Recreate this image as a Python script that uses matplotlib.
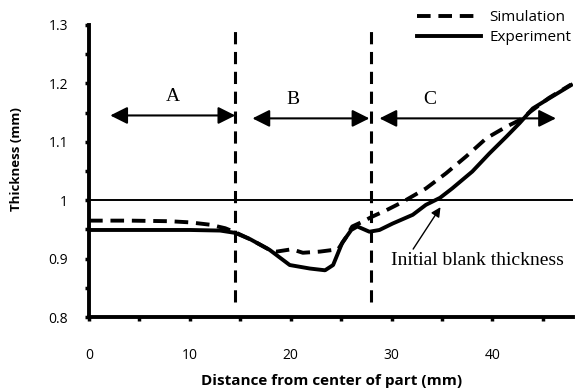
import matplotlib
matplotlib.use("Agg")
import matplotlib.pyplot as plt
from matplotlib.ticker import MultipleLocator

# thickness profile along the part (mm)
sim_x = [0, 4, 8, 10, 12, 13.5, 14.5, 16, 17.9, 18.6, 20.1, 21.2, 22.9, 24.7, 25.5,
         26.1, 27.1, 28.1, 29.5, 31.1, 33.4, 35.4, 37.4, 39.4, 41.4, 42.7, 43.8, 45.6, 47.8]
sim_y = [0.965, 0.965, 0.964, 0.962, 0.958, 0.952, 0.945, 0.933, 0.915, 0.912, 0.916,
         0.910, 0.912, 0.916, 0.937, 0.955, 0.963, 0.972, 0.983, 0.997, 1.020, 1.046,
         1.075, 1.106, 1.126, 1.137, 1.152, 1.175, 1.198]

exp_x = [0, 5, 10, 13, 14.5, 16, 17.9, 19.9, 21.9, 23.4, 24.2, 25.1, 26.0, 26.6, 27.8,
         28.8, 30.1, 32.1, 33.4, 34.8, 36.0, 38.0, 39.7, 41.4, 42.7, 44.0, 45.6, 47.8]
exp_y = [0.949, 0.949, 0.949, 0.948, 0.944, 0.933, 0.915, 0.889, 0.883, 0.880, 0.889,
         0.927, 0.949, 0.955, 0.946, 0.949, 0.960, 0.975, 0.992, 1.004, 1.020, 1.049,
         1.080, 1.109, 1.132, 1.157, 1.174, 1.197]

initial_thickness = 1.0
zone_bounds = [14.5, 28.0]
zone_labels = ["A", "B", "C"]
zone_arrows = [(2.1, 14.5, 1.145), (16.2, 27.8, 1.14), (28.8, 46.3, 1.14)]
zone_label_x = [8.3, 20.2, 33.8]

sans = ["Open Sans", "DejaVu Sans"]
serif = ["Liberation Serif", "DejaVu Serif"]

fig = plt.figure(figsize=(5.86, 3.89), dpi=100)
ax = fig.add_axes([0.152, 0.185, 0.826, 0.751])

ax.plot(sim_x, sim_y, color="black", lw=2.8, ls=(0, (3.5, 2)), label="Simulation")
ax.plot(exp_x, exp_y, color="black", lw=2.8, label="Experiment")
ax.axhline(initial_thickness, color="black", lw=1.4)

for xb in zone_bounds:
    ax.plot([xb, xb], [0.825, 1.3], color="black", lw=2.2, ls=(0, (4, 2.5)))

for (x0, x1, yy), lab, lx in zip(zone_arrows, zone_labels, zone_label_x):
    ax.annotate("", xy=(x1, yy), xytext=(x0, yy),
                arrowprops=dict(arrowstyle="<|-|>", color="black", lw=1.5,
                                mutation_scale=26, shrinkA=0, shrinkB=0))
    ax.text(lx, yy + 0.032, lab, family=serif, fontsize=14, ha="center", va="center")

ax.annotate("Initial blank thickness", xy=(35.0, 0.992), xytext=(29.9, 0.897),
            family=serif, fontsize=14, va="center", ha="left",
            arrowprops=dict(arrowstyle="-|>", color="black", lw=1.0,
                            mutation_scale=14, shrinkA=0, shrinkB=2,
                            relpos=(0.12, 1.0)))

ax.set_xlim(0, 48)
ax.set_ylim(0.8, 1.3)
ax.xaxis.set_major_locator(MultipleLocator(10))
ax.xaxis.set_minor_locator(MultipleLocator(5))
ax.yaxis.set_minor_locator(MultipleLocator(0.05))
ax.set_yticks([0.8, 0.9, 1.0, 1.1, 1.2, 1.3])
ax.set_yticklabels(["0.8", "0.9", "1", "1.1", "1.2", "1.3"])

for side in ["top", "right"]:
    ax.spines[side].set_visible(False)
for side in ["left", "bottom"]:
    ax.spines[side].set_linewidth(2.8)

ax.tick_params(axis="x", which="both", direction="out", length=3, width=2.5, pad=19)
ax.tick_params(axis="y", which="both", direction="out", length=3, width=2.5, pad=12)
for lbl in ax.get_xticklabels() + ax.get_yticklabels():
    lbl.set_family(sans)
    lbl.set_fontsize(10)

ax.set_xlabel("Distance from center of part (mm)", family=sans, fontsize=11,
              fontweight="bold", labelpad=8)
ax.set_ylabel("Thickness (mm)", family=sans, fontsize=9.5, fontweight="bold")
ax.yaxis.set_label_coords(-0.136, 0.54)

fig.legend(loc="upper right", bbox_to_anchor=(0.985, 0.99), frameon=False,
           prop={"family": sans, "size": 11}, handlelength=4.2, handletextpad=0.5,
           labelspacing=0.35, borderaxespad=0)

fig.savefig("out.png", dpi=100)
